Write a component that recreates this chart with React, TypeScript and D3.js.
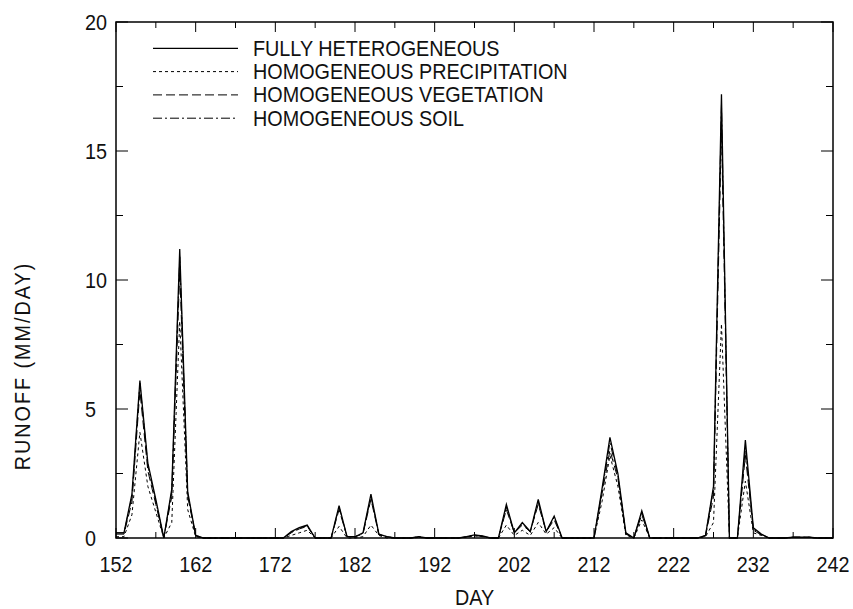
import * as d3 from "d3";

// days 152..242, one value per day (mm/day)
const days = d3.range(152, 243);

const fullyHet = [
  0.2, 0.2, 1.7, 6.1, 2.9, 1.5, 0, 1.9, 11.2, 1.8,
  0.1, 0, 0, 0, 0, 0, 0, 0, 0, 0,
  0, 0, 0.25, 0.4, 0.5, 0, 0, 0, 1.25, 0.05,
  0.05, 0.2, 1.7, 0.15, 0.05, 0, 0, 0, 0.05, 0,
  0, 0, 0, 0, 0.05, 0.12, 0.08, 0, 0, 1.3,
  0.2, 0.6, 0.25, 1.5, 0.25, 0.85, 0, 0, 0, 0,
  0, 1.9, 3.9, 2.5, 0.2, 0, 1.05, 0, 0, 0,
  0, 0, 0, 0, 0.1, 2.0, 17.2, 0, 0, 3.8,
  0.4, 0.15, 0, 0, 0, 0.03, 0.03, 0.03, 0, 0,
  0,
];

const homPrecip = [
  0.05, 0.05, 0.9, 4.1, 2.0, 1.0, 0, 0.6, 8.4, 1.1,
  0.05, 0, 0, 0, 0, 0, 0, 0, 0, 0,
  0, 0, 0.1, 0.2, 0.3, 0, 0, 0, 0.45, 0,
  0, 0.05, 0.5, 0.1, 0, 0, 0, 0, 0.02, 0,
  0, 0, 0, 0, 0.03, 0.08, 0.05, 0, 0, 0.5,
  0.1, 0.3, 0.1, 0.6, 0.15, 0.4, 0, 0, 0, 0,
  0, 1.4, 3.2, 2.0, 0.1, 0, 0.7, 0, 0, 0,
  0, 0, 0, 0, 0.05, 0.6, 8.3, 0, 0, 2.2,
  0.2, 0.1, 0, 0, 0, 0.02, 0.02, 0.02, 0, 0,
  0,
];

const homVeg = [
  0.15, 0.15, 1.4, 5.7, 2.6, 1.3, 0, 1.6, 10.3, 1.6,
  0.08, 0, 0, 0, 0, 0, 0, 0, 0, 0,
  0, 0, 0.2, 0.35, 0.45, 0, 0, 0, 1.1, 0.05,
  0.05, 0.15, 1.5, 0.12, 0.05, 0, 0, 0, 0.04, 0,
  0, 0, 0, 0, 0.04, 0.1, 0.06, 0, 0, 1.1,
  0.2, 0.5, 0.25, 1.3, 0.25, 0.7, 0, 0, 0, 0,
  0, 1.7, 3.4, 2.3, 0.15, 0, 0.9, 0, 0, 0,
  0, 0, 0, 0, 0.08, 1.6, 15.9, 0, 0, 3.2,
  0.3, 0.12, 0, 0, 0, 0.03, 0.03, 0.03, 0, 0,
  0,
];

const homSoil = [
  0.2, 0.2, 1.6, 6.0, 2.8, 1.4, 0, 1.8, 10.9, 1.7,
  0.1, 0, 0, 0, 0, 0, 0, 0, 0, 0,
  0, 0, 0.22, 0.38, 0.48, 0, 0, 0, 1.2, 0.05,
  0.05, 0.18, 1.6, 0.14, 0.05, 0, 0, 0, 0.05, 0,
  0, 0, 0, 0, 0.05, 0.11, 0.07, 0, 0, 1.2,
  0.2, 0.55, 0.25, 1.4, 0.25, 0.8, 0, 0, 0, 0,
  0, 1.8, 3.7, 2.4, 0.18, 0, 1.0, 0, 0, 0,
  0, 0, 0, 0, 0.1, 1.9, 16.8, 0, 0, 3.5,
  0.35, 0.14, 0, 0, 0, 0.03, 0.03, 0.03, 0, 0,
  0,
];

const seriesNames = [
  "FULLY HETEROGENEOUS",
  "HOMOGENEOUS PRECIPITATION",
  "HOMOGENEOUS VEGETATION",
  "HOMOGENEOUS SOIL",
];
const seriesValues = [fullyHet, homPrecip, homVeg, homSoil];
const dashes = ["none", "3,3", "9,4", "9,3,2,3"];

const xTicks = [152, 162, 172, 182, 192, 202, 212, 222, 232, 242];
const xMinor = [157, 167, 177, 187, 197, 207, 217, 227, 237];
const yTicks = [0, 5, 10, 15, 20];
const yMinor = [2.5, 7.5, 12.5, 17.5];

const W = 853, H = 609;
const L = 116, R = 833, T = 22, B = 538;
const font = "'Liberation Sans', Arial, sans-serif";
const fs = 22;
const squeeze = 0.9; // the original plot font is narrow

export default function App() {
  const x = d3.scaleLinear().domain([152, 242]).range([L, R]);
  const y = d3.scaleLinear().domain([0, 20]).range([B, T]);
  const line = d3.line<number>()
    .x((d, i) => x(days[i]))
    .y((d) => y(d));

  return (
    <svg width={W} height={H} style={{ position: "absolute", left: 0, top: 0, background: "#fff" }}>
      <g stroke="#000" fill="none">
        {seriesValues.map((vals, k) => (
          <path key={k} d={line(vals) || ""} strokeWidth={k === 0 ? 1.3 : 1}
            strokeDasharray={dashes[k]} />
        ))}
        <rect x={L} y={T} width={R - L} height={B - T} strokeWidth={1.5} />
        {xTicks.map((t) => (
          <g key={"xt" + t}>
            <line x1={x(t)} x2={x(t)} y1={B} y2={B - 10} />
            <line x1={x(t)} x2={x(t)} y1={T} y2={T + 10} />
          </g>
        ))}
        {xMinor.map((t) => (
          <g key={"xm" + t}>
            <line x1={x(t)} x2={x(t)} y1={B} y2={B - 6} />
            <line x1={x(t)} x2={x(t)} y1={T} y2={T + 6} />
          </g>
        ))}
        {yTicks.map((t) => (
          <g key={"yt" + t}>
            <line x1={L} x2={L + 12} y1={y(t)} y2={y(t)} />
            <line x1={R} x2={R - 12} y1={y(t)} y2={y(t)} />
          </g>
        ))}
        {yMinor.map((t) => (
          <g key={"ym" + t}>
            <line x1={L} x2={L + 7} y1={y(t)} y2={y(t)} />
            <line x1={R} x2={R - 7} y1={y(t)} y2={y(t)} />
          </g>
        ))}
      </g>
      <g fontFamily={font} fontSize={fs} fill="#111">
        {xTicks.map((t) => (
          <text key={"xl" + t} transform={`translate(${x(t)}, 572) scale(${squeeze}, 1)`}
            textAnchor="middle">{t}</text>
        ))}
        {yTicks.map((t) => (
          <text key={"yl" + t} transform={`translate(85, ${y(t) + 8}) scale(${squeeze}, 1)`}
            textAnchor="start">{t}</text>
        ))}
        <text transform={`translate(${(L + R) / 2}, 605) scale(${squeeze}, 1)`} textAnchor="middle">DAY</text>
        <text transform={`translate(30, 366) rotate(-90) scale(${squeeze}, 1)`} textAnchor="middle"
          letterSpacing={2.2}>
          RUNOFF (MM/DAY)
        </text>
      </g>
      <g>
        {seriesNames.map((name, k) => (
          <g key={name} transform={`translate(0, ${48.3 + k * 23.3})`}>
            <line x1={153} x2={238} y1={0} y2={0} stroke="#000"
              strokeWidth={k === 0 ? 1.3 : 1} strokeDasharray={dashes[k]} />
            <text transform={`translate(253, 7.5) scale(${squeeze}, 1)`} fontFamily={font}
              fontSize={fs} fill="#111">
              {name}
            </text>
          </g>
        ))}
      </g>
    </svg>
  );
}
